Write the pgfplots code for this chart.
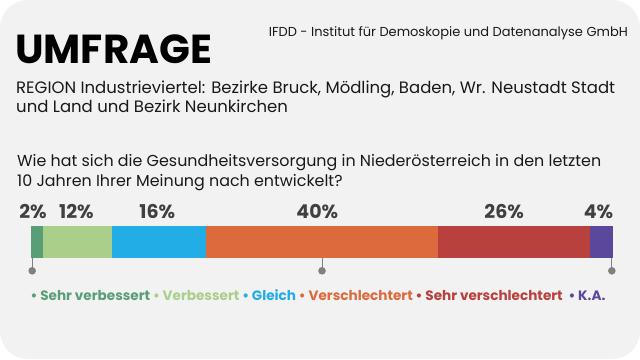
\documentclass[border=0pt]{standalone}
\usepackage{pgfplots}
\pgfplotsset{compat=1.18}
\usepackage{fontspec}
\setmainfont{Poppins}
\definecolor{bg}{HTML}{F2F2F2}
\definecolor{c1}{HTML}{5A9E78}
\definecolor{c2}{HTML}{A9CF8A}
\definecolor{c3}{HTML}{22ADE6}
\definecolor{c4}{HTML}{DC6A3C}
\definecolor{c5}{HTML}{B8403D}
\definecolor{c6}{HTML}{5B479C}
\definecolor{lab}{HTML}{404040}
\definecolor{tickgray}{HTML}{808080}
\begin{document}
\begin{tikzpicture}
\useasboundingbox (0pt,0pt) rectangle (640pt,-359pt);
\fill[white] (0pt,0pt) rectangle (640pt,-359pt);
\fill[bg, rounded corners=28pt] (0pt,0pt) rectangle (640pt,-359pt);
\node[anchor=base east, inner sep=0pt, text=black!90, font=\fontsize{13}{15}\selectfont] at (628pt,-36pt) {IFDD - Institut für Demoskopie und Datenanalyse GmbH};
\node[anchor=base west, inner sep=0pt, font=\fontsize{40.5}{48}\selectfont\bfseries] at (15pt,-63pt) {UMFRAGE};
\node[anchor=base west, inner sep=0pt, text=black!90, font=\fontsize{16.5}{19}\selectfont] at (16pt,-93pt) {REGION Industrieviertel: Bezirke Bruck, Mödling, Baden, Wr. Neustadt Stadt};
\node[anchor=base west, inner sep=0pt, text=black!90, font=\fontsize{16.5}{19}\selectfont] at (16pt,-112pt) {und Land und Bezirk Neunkirchen};
\node[anchor=base west, inner sep=0pt, text=black!90, font=\fontsize{15.9}{19}\selectfont] at (17pt,-166pt) {Wie hat sich die Gesundheitsversorgung in Niederösterreich in den letzten};
\node[anchor=base west, inner sep=0pt, text=black!90, font=\fontsize{15.9}{19}\selectfont] at (17pt,-186pt) {10 Jahren Ihrer Meinung nach entwickelt?};

\begin{axis}[at={(31pt,-258pt)}, anchor=south west, scale only axis, width=582pt, height=32pt,
  xmin=0, xmax=100, ymin=-0.5, ymax=0.5, axis lines=none, xbar stacked, bar width=32pt, clip=false]
\addplot[fill=c1, draw=none] coordinates {(2,0)};
\addplot[fill=c2, draw=none] coordinates {(12,0)};
\addplot[fill=c3, draw=none] coordinates {(16,0)};
\addplot[fill=c4, draw=none] coordinates {(40,0)};
\addplot[fill=c5, draw=none] coordinates {(26,0)};
\addplot[fill=c6, draw=none] coordinates {(4,0)};
\end{axis}

\begin{axis}[at={(31pt,-258pt)}, anchor=south west, scale only axis, width=582pt, height=32pt,
  xmin=0, xmax=100, ymin=-0.5, ymax=0.5, axis lines=none, clip=false]
\addplot[tickgray, line width=0.9pt, mark=*, mark indices={2}, mark size=3.3pt] coordinates {(0.2,-0.5) (0.2,-0.9)};
\addplot[tickgray, line width=0.9pt, mark=*, mark indices={2}, mark size=3.3pt] coordinates {(50,-0.5) (50,-0.9)};
\addplot[tickgray, line width=0.9pt, mark=*, mark indices={2}, mark size=3.3pt] coordinates {(99.8,-0.5) (99.8,-0.9)};
\addplot[only marks, mark=none, nodes near coords, point meta=explicit symbolic,
  every node near coord/.append style={anchor=center, inner sep=0pt, text=lab, font=\fontsize{19}{22}\selectfont\bfseries}]
  coordinates {(0.34,0.94) [2\%] (7.8,0.94) [12\%] (21.7,0.94) [16\%] (49.2,0.94) [40\%] (81.3,0.94) [26\%] (97.5,0.94) [4\%]};
\end{axis}

\node[anchor=base, inner sep=0pt, font=\fontsize{13.6}{16}\selectfont\bfseries] at (318pt,-300pt) {\textcolor{c1}{• Sehr verbessert} \textcolor{c2}{• Verbessert} \textcolor{c3}{• Gleich} \textcolor{c4}{• Verschlechtert} \textcolor{c5}{• Sehr verschlechtert} \ \textcolor{c6}{• K.A.}};
\end{tikzpicture}
\end{document}
